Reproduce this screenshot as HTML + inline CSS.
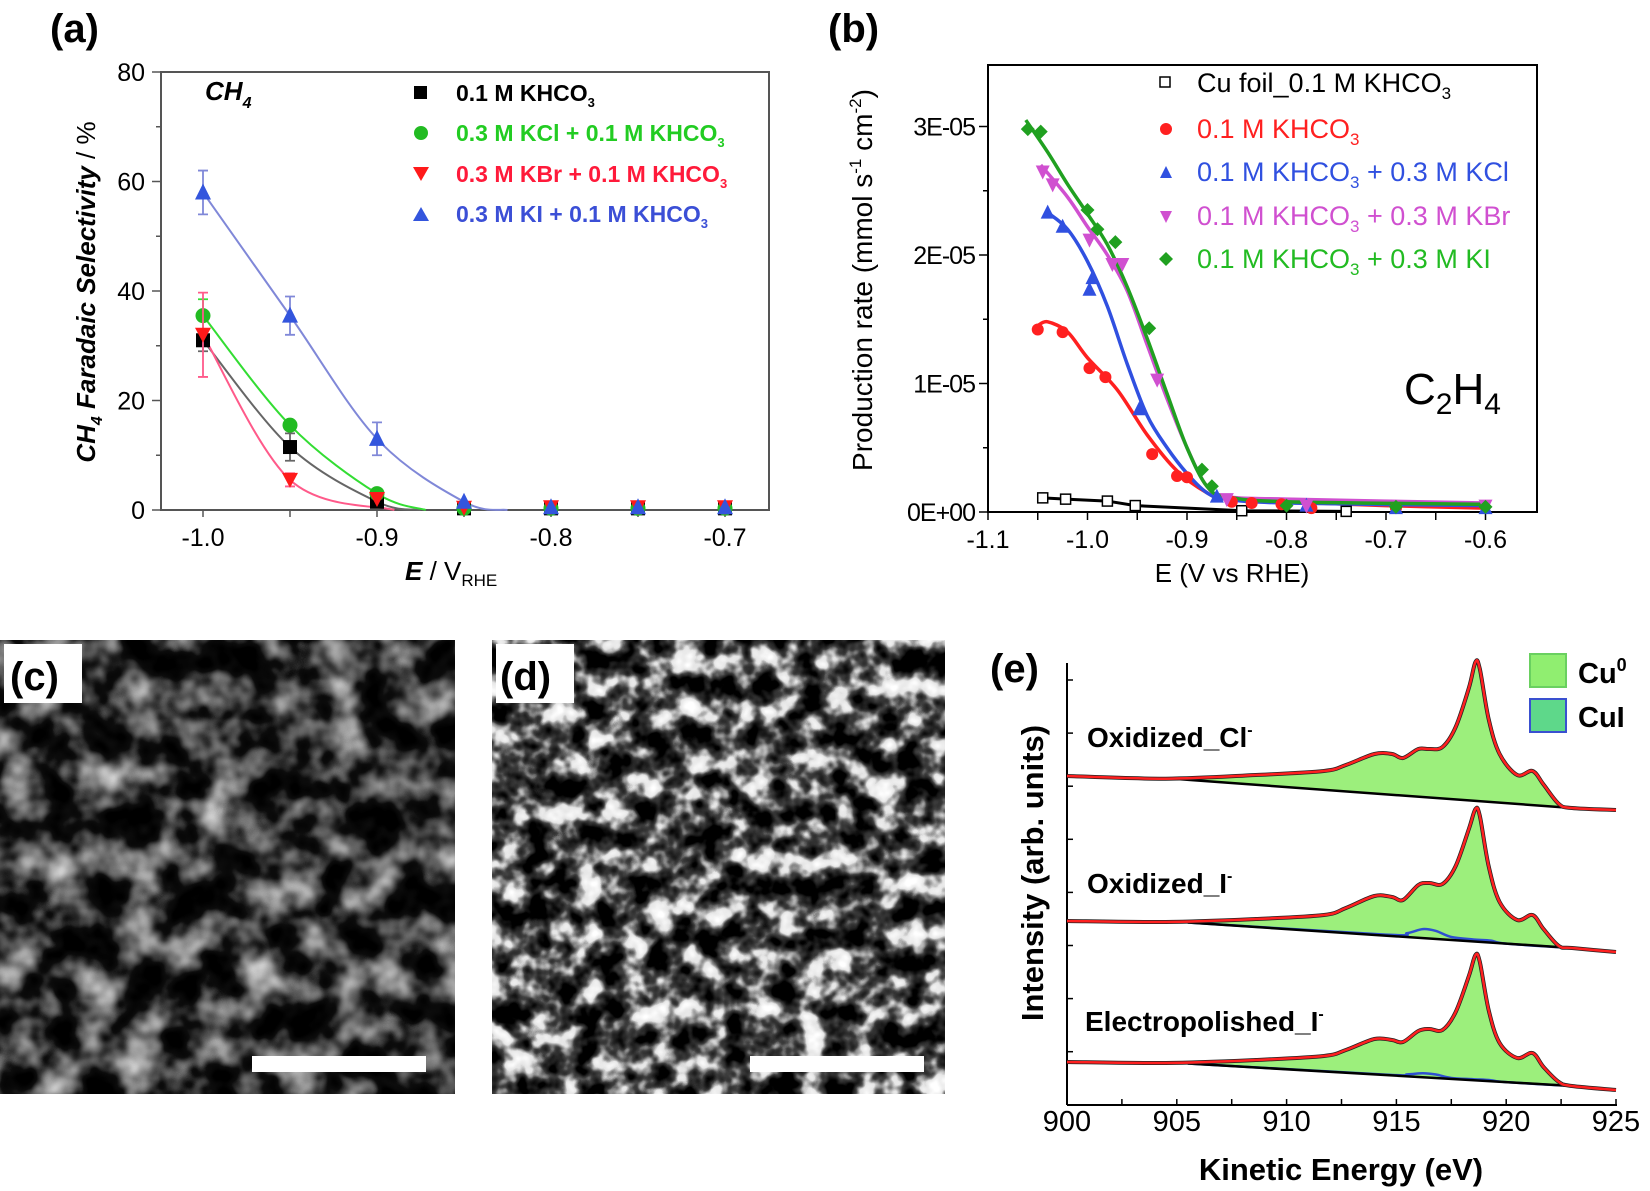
<!DOCTYPE html>
<html><head><meta charset="utf-8">
<style>
html,body{margin:0;padding:0;background:#fff;}
svg{display:block;font-family:"Liberation Sans",sans-serif;}
</style></head>
<body>
<svg id="fig" width="1650" height="1191" viewBox="0 0 1650 1191" xmlns="http://www.w3.org/2000/svg">
<defs>
<filter id="semc" x="0" y="0" width="1" height="1" color-interpolation-filters="sRGB">
<feTurbulence type="fractalNoise" baseFrequency="0.025" numOctaves="3" seed="7"/>
<feColorMatrix type="matrix" values="1 0 0 0 0 1 0 0 0 0 1 0 0 0 0 0 0 0 0 1"/>
<feComponentTransfer><feFuncR type="table" tableValues="0 0 0 0.05 0.35 0.6 0.8 0.95"/><feFuncG type="table" tableValues="0 0 0 0.05 0.35 0.6 0.8 0.95"/><feFuncB type="table" tableValues="0 0 0 0.05 0.35 0.6 0.8 0.95"/></feComponentTransfer>
</filter>
<filter id="semd" x="0" y="0" width="1" height="1" color-interpolation-filters="sRGB">
<feTurbulence type="fractalNoise" baseFrequency="0.04" numOctaves="3" seed="11"/>
<feColorMatrix type="matrix" values="1 0 0 0 0 1 0 0 0 0 1 0 0 0 0 0 0 0 0 1"/>
<feComponentTransfer><feFuncR type="table" tableValues="0 0 0 0.25 0.9 1 1"/><feFuncG type="table" tableValues="0 0 0 0.25 0.9 1 1"/><feFuncB type="table" tableValues="0 0 0 0.25 0.9 1 1"/></feComponentTransfer>
</filter>
</defs>

<text x="50" y="42" font-size="40" font-weight="bold">(a)</text>
<text x="828" y="42" font-size="40" font-weight="bold">(b)</text>
<text x="990" y="682" font-size="40" font-weight="bold">(e)</text>

<g id="pa">
<rect x="161" y="72" width="608" height="438" fill="none" stroke="#555" stroke-width="2"/>
<text x="205" y="100" font-size="26" font-weight="bold" font-style="italic">CH<tspan font-size="16" dy="8">4</tspan></text>
<text transform="translate(95,292) rotate(-90)" text-anchor="middle" font-size="26" font-weight="bold" font-style="italic">CH<tspan font-size="16" dy="7">4</tspan><tspan dy="-7"> Faradaic Selectivity </tspan><tspan font-style="normal" font-weight="normal">/ %</tspan></text>
<text x="405" y="580" font-size="26"><tspan font-weight="bold" font-style="italic">E</tspan> / V<tspan font-size="17" dy="6">RHE</tspan></text>
<g font-size="23" font-weight="bold">
<rect x="414" y="86" width="13" height="13" fill="#000"/>
<text x="456" y="101" fill="#000">0.1 M KHCO<tspan font-size="13" dy="6">3</tspan></text>
<circle cx="421" cy="133" r="7" fill="#22bb22"/>
<text x="456" y="141" fill="#22cc22">0.3 M KCl + 0.1 M KHCO<tspan font-size="13" dy="6">3</tspan></text>
<polygon points="413,167 429,167 421,181" fill="#ff1a1a"/>
<text x="456" y="182" fill="#ff1a3a">0.3 M KBr + 0.1 M KHCO<tspan font-size="13" dy="6">3</tspan></text>
<polygon points="413,221 429,221 421,207" fill="#3355dd"/>
<text x="456" y="222" fill="#3b4fd6">0.3 M KI + 0.1 M KHCO<tspan font-size="13" dy="6">3</tspan></text>
</g>
</g>

<g id="pb">
<rect x="988" y="65" width="549" height="447" fill="none" stroke="#000" stroke-width="2"/>
<text x="1404" y="404" font-size="44">C<tspan font-size="30" dy="10">2</tspan><tspan dy="-10">H</tspan><tspan font-size="30" dy="10">4</tspan></text>
<text transform="translate(872,280) rotate(-90)" text-anchor="middle" font-size="28">Production rate (mmol s<tspan font-size="17" dy="-11">-1</tspan><tspan dy="11"> cm</tspan><tspan font-size="17" dy="-11">-2</tspan><tspan dy="11">)</tspan></text>
<text x="1232" y="582" text-anchor="middle" font-size="26">E (V vs RHE)</text>
<g font-size="27">
<rect x="1160" y="77" width="10" height="10" fill="#fff" stroke="#000" stroke-width="1.5"/>
<text x="1197" y="92" fill="#000">Cu foil_0.1 M KHCO<tspan font-size="17" dy="7">3</tspan></text>
<circle cx="1166" cy="129" r="6" fill="#ff2020"/>
<text x="1197" y="138" fill="#ff2020">0.1 M KHCO<tspan font-size="17" dy="7">3</tspan></text>
<polygon points="1160,178 1172,178 1166,166" fill="#3050e0"/>
<text x="1197" y="181" fill="#3050e0">0.1 M KHCO<tspan font-size="17" dy="7">3</tspan><tspan dy="-7"> + 0.3 M KCl</tspan></text>
<polygon points="1160,211 1172,211 1166,223" fill="#d050d0"/>
<text x="1197" y="225" fill="#d050d0">0.1 M KHCO<tspan font-size="17" dy="7">3</tspan><tspan dy="-7"> + 0.3 M KBr</tspan></text>
<polygon points="1166,252 1173,259 1166,266 1159,259" fill="#20a020"/>
<text x="1197" y="268" fill="#22bb22">0.1 M KHCO<tspan font-size="17" dy="7">3</tspan><tspan dy="-7"> + 0.3 M KI</tspan></text>
</g>
</g>

<g>
<rect x="0" y="640" width="455" height="454" filter="url(#semc)"/>
<rect x="4" y="644" width="78" height="59" fill="#fff"/>
<text x="10" y="690" font-size="40" font-weight="bold">(c)</text>
<rect x="252" y="1056" width="174" height="16" fill="#fff"/>
</g>
<g>
<rect x="492" y="640" width="453" height="454" filter="url(#semd)"/>
<rect x="496" y="644" width="78" height="59" fill="#fff"/>
<text x="500" y="690" font-size="40" font-weight="bold">(d)</text>
<rect x="750" y="1056" width="174" height="16" fill="#fff"/>
</g>

<g id="pe">
<line x1="1067" y1="663" x2="1067" y2="1105" stroke="#000" stroke-width="2"/>
<line x1="1067" y1="1105" x2="1617" y2="1105" stroke="#000" stroke-width="2"/>
<text transform="translate(1043,873) rotate(-90)" text-anchor="middle" font-size="31" font-weight="bold">Intensity (arb. units)</text>
<text x="1341" y="1180" text-anchor="middle" font-size="31" font-weight="bold">Kinetic Energy (eV)</text>
<rect x="1530" y="654" width="36" height="33" fill="#90ee70" stroke="#6ad060" stroke-width="2"/>
<text x="1578" y="683" font-size="29" font-weight="bold">Cu<tspan font-size="18" dy="-12">0</tspan></text>
<rect x="1530" y="699" width="36" height="33" fill="#5ed88a" stroke="#3a50d0" stroke-width="2"/>
<text x="1578" y="727" font-size="29" font-weight="bold">CuI</text>
<text x="1087" y="747" font-size="28" font-weight="bold">Oxidized_Cl<tspan font-size="16" dy="-12">-</tspan></text>
<text x="1087" y="893" font-size="28" font-weight="bold">Oxidized_I<tspan font-size="16" dy="-12">-</tspan></text>
<text x="1085" y="1031" font-size="28" font-weight="bold">Electropolished_I<tspan font-size="16" dy="-12">-</tspan></text>
</g>
</svg>

<script>
// ---------- Panel (a) data ----------
const aX = [-1.0, -0.95, -0.9, -0.85, -0.8, -0.75, -0.7];
const aKHCO3 = [31, 11.5, 1.5, 0.3, 0.3, 0.3, 0.3];
const aKCl = [35.5, 15.5, 3, 0.3, 0.3, 0.3, 0.3];
const aKBr = [32, 5.5, 2, 0.4, 0.5, 0.5, 0.5];
const aKI = [58, 35.5, 13, 1.5, 0.5, 0.5, 0.5];
const aKHCO3Err = [2, 2.5, 0, 0, 0, 0, 0];
const aKClErr = [3, 0, 0, 0, 0, 0, 0];
const aKBrErr = [7.7, 1.2, 0, 0, 0, 0, 0];
const aKIErr = [4, 3.5, 3, 0, 0, 0, 0];
const aFitEnd = [-0.875, -0.872, -0.89, -0.825];
const aYTicks = [0, 20, 40, 60, 80];
const aXTicks = [-1.0, -0.9, -0.8, -0.7];
const aXTickLabels = ["-1.0", "-0.9", "-0.8", "-0.7"];

// ---------- Panel (b) data (units 1E-05) ----------
const bFoilX = [-1.045, -1.022, -0.98, -0.952, -0.845, -0.74];
const bFoilY = [0.11, 0.1, 0.085, 0.05, 0.01, 0.005];
const bKHCO3X = [-1.05, -1.025, -0.998, -0.982, -0.935, -0.91, -0.9, -0.855, -0.835, -0.805, -0.775, -0.69];
const bKHCO3Y = [1.42, 1.4, 1.12, 1.05, 0.45, 0.28, 0.27, 0.08, 0.07, 0.06, 0.03, 0.03];
const bKClX = [-1.04, -1.025, -0.995, -0.998, -0.948, -0.87, -0.78, -0.69, -0.6];
const bKClY = [2.33, 2.22, 1.82, 1.73, 0.8, 0.12, 0.05, 0.03, 0.03];
const bKBrX = [-1.045, -1.035, -0.998, -0.975, -0.965, -0.93, -0.86, -0.78, -0.6];
const bKBrY = [2.65, 2.55, 2.12, 1.93, 1.93, 1.03, 0.1, 0.05, 0.05];
const bKIX = [-1.06, -1.047, -1.0, -0.99, -0.972, -0.938, -0.885, -0.875, -0.8, -0.69, -0.6];
const bKIY = [2.98, 2.96, 2.35, 2.2, 2.1, 1.43, 0.33, 0.2, 0.05, 0.04, 0.04];
const bFitKHCO3X = [-1.05, -1.04, -1.02, -1.0, -0.97, -0.94, -0.91, -0.88, -0.86, -0.8, -0.7, -0.6];
const bFitKHCO3Y = [1.45, 1.48, 1.4, 1.2, 0.95, 0.6, 0.32, 0.15, 0.1, 0.08, 0.05, 0.03];
const bFitKClX = [-1.04, -1.02, -1.0, -0.98, -0.96, -0.94, -0.92, -0.9, -0.88, -0.86, -0.8, -0.6];
const bFitKClY = [2.33, 2.2, 1.95, 1.6, 1.15, 0.75, 0.5, 0.3, 0.15, 0.1, 0.07, 0.05];
const bFitKBrX = [-1.047, -1.02, -1.0, -0.98, -0.96, -0.94, -0.92, -0.9, -0.88, -0.86, -0.8, -0.6];
const bFitKBrY = [2.7, 2.45, 2.22, 2.0, 1.72, 1.3, 0.88, 0.5, 0.2, 0.12, 0.1, 0.07];
const bFitKIX = [-1.062, -1.04, -1.02, -1.0, -0.98, -0.96, -0.94, -0.92, -0.9, -0.88, -0.86, -0.8, -0.6];
const bFitKIY = [3.05, 2.8, 2.55, 2.32, 2.08, 1.75, 1.35, 0.92, 0.5, 0.2, 0.12, 0.08, 0.06];
const bYTicks = [0, 1, 2, 3];
const bYTickLabels = ["0E+00", "1E-05", "2E-05", "3E-05"];
const bXTicks = [-1.1, -1.0, -0.9, -0.8, -0.7, -0.6];
const bXTickLabels = ["-1.1", "-1.0", "-0.9", "-0.8", "-0.7", "-0.6"];

// ---------- Panel (e) data ----------
const eE = [900, 904.5, 908.6, 911.7, 912.7, 914, 914.8, 915.3, 916, 916.5, 917.1, 917.7, 918.3, 918.6, 918.8, 919.2, 919.7, 920.5, 921.2, 921.7, 922.4, 923, 925];
const eCl = [0, -2.7, 1, 5, 11, 22, 22, 18, 27, 27, 29, 49, 88, 114, 107, 57, 22, 1, 5, -8.5, -28, -32, -34];
const eI = [0, -1, 2, 6, 13, 25, 24, 21, 36, 38, 37, 55, 92, 112, 105, 55, 19, 1, 6, -8, -25, -27, -31];
const eEP = [0, -1, 2, 6, 12, 23, 22, 20, 31, 33, 32, 50, 86, 107, 100, 52, 19, 4, 9, -5, -20, -24, -28];
const eBgStart = [905, 905.5, 905.5];
const eBgStartY = [-3, -1.5, -1.5];
const eBgEnd = [923, 923, 923];
const eBgEndY = [-32, -27, -24];
const eCuIE = [905.5, 914.5, 915.5, 916.2, 916.8, 917.5, 918.5, 919.3, 920, 923];
const eCuIIbump = [0, 1, 4, 9, 8, 3, 2, 2, 0, 0];
const eCuIEPbump = [0, 0.5, 2, 4, 3.5, 1, 1, 1, 0, 0];
const eXTicks = [900, 905, 910, 915, 920, 925];
const eXTickLabels = ["900", "905", "910", "915", "920", "925"];

const NS = "http://www.w3.org/2000/svg";
const svg = document.getElementById('fig');
function mk(tag, attrs, parent) {
  const el = document.createElementNS(NS, tag);
  for (const k in attrs) el.setAttribute(k, attrs[k]);
  (parent || svg).appendChild(el);
  return el;
}
function smooth(pts) {
  let d = `M${pts[0][0]},${pts[0][1]}`;
  for (let i = 0; i < pts.length - 1; i++) {
    const p0 = pts[Math.max(0, i - 1)], p1 = pts[i], p2 = pts[i + 1], p3 = pts[Math.min(pts.length - 1, i + 2)];
    const c1x = p1[0] + (p2[0] - p0[0]) / 6, c1y = p1[1] + (p2[1] - p0[1]) / 6;
    const c2x = p2[0] - (p3[0] - p1[0]) / 6, c2y = p2[1] - (p3[1] - p1[1]) / 6;
    d += ` C${c1x},${c1y} ${c2x},${c2y} ${p2[0]},${p2[1]}`;
  }
  return d;
}

// ===== Panel (a) =====
const xa = v => 203 + (v + 1) * 1740;
const ya = v => 510 - v * 5.475;
const ga = document.getElementById('pa');
for (let v = 0; v <= 80; v += 10) {
  const t = mk('line', {x1: 161, x2: v % 20 === 0 ? 152 : 156, y1: ya(v), y2: ya(v), stroke: '#555', 'stroke-width': 1.5}, ga);
  
  
}
aYTicks.forEach(v => {
  const t = mk('text', {x: 145, y: ya(v) + 9, 'text-anchor': 'end', 'font-size': 25}, ga);
  t.textContent = String(v);
  
  
});
for (let v = -1.0; v <= -0.69; v += 0.05) {
  const t = mk('line', {x1: xa(v), x2: xa(v), y1: 510, y2: 517, stroke: '#555', 'stroke-width': 1.5}, ga);
  
  
}
aXTicks.forEach((v, i) => {
  const t = mk('text', {x: xa(v), y: 546, 'text-anchor': 'middle', 'font-size': 25}, ga);
  t.textContent = aXTickLabels[i];
  
  
});
const aSeries = [
  {name: 'khco3', y: aKHCO3, e: aKHCO3Err, line: '#666', col: '#000', mark: 'sq', end: aFitEnd[0], n: 3},
  {name: 'kcl', y: aKCl, e: aKClErr, line: '#33dd33', col: '#22bb22', mark: 'ci', end: aFitEnd[1], n: 3},
  {name: 'kbr', y: aKBr, e: aKBrErr, line: '#ff5a8a', col: '#ff1a1a', mark: 'dn', end: aFitEnd[2], n: 2},
  {name: 'ki', y: aKI, e: aKIErr, line: '#8088d8', col: '#3355dd', mark: 'up', end: aFitEnd[3], n: 4}
];
aSeries.forEach(s => {
  const pts = [];
  for (let i = 0; i < s.n; i++) pts.push([xa(aX[i]), ya(s.y[i])]);
  pts.push([xa(s.end), ya(0)]);
  const p = mk('path', {d: smooth(pts), fill: 'none', stroke: s.line, 'stroke-width': 2}, ga);
  
  
});
aSeries.forEach(s => {
  aX.forEach((xv, i) => {
    const cx = xa(xv), cy = ya(s.y[i]);
    if (s.e[i] > 0) {
      const eb = mk('path', {d: `M${cx},${ya(s.y[i] - s.e[i])}V${ya(s.y[i] + s.e[i])}M${cx - 5},${ya(s.y[i] - s.e[i])}h10M${cx - 5},${ya(s.y[i] + s.e[i])}h10`, stroke: s.line, 'stroke-width': 1.8, fill: 'none'}, ga);
      
      
    }
    let m;
    if (s.mark === 'sq') m = mk('rect', {x: cx - 7, y: cy - 7, width: 14, height: 14, fill: s.col}, ga);
    else if (s.mark === 'ci') m = mk('circle', {cx: cx, cy: cy, r: 7.5, fill: s.col}, ga);
    else if (s.mark === 'dn') m = mk('polygon', {points: `${cx - 8},${cy - 7} ${cx + 8},${cy - 7} ${cx},${cy + 8}`, fill: s.col}, ga);
    else m = mk('polygon', {points: `${cx - 8},${cy + 7} ${cx + 8},${cy + 7} ${cx},${cy - 9}`, fill: s.col}, ga);
    
    
  });
});

// ===== Panel (b) =====
const xb = v => 988 + (v + 1.1) * 995;
const yb = v => 512 - v * 128.5;
const gb = document.getElementById('pb');
for (let v = 0; v <= 3.4; v += 0.5) {
  const t = mk('line', {x1: 988, x2: Math.abs(v - Math.round(v)) < 0.01 ? 979 : 983, y1: yb(v), y2: yb(v), stroke: '#000', 'stroke-width': 1.5}, gb);
  
  
}
bYTicks.forEach((v, i) => {
  const t = mk('text', {x: 975, y: yb(v) + 9, 'text-anchor': 'end', 'font-size': 25, 'letter-spacing': '-1'}, gb);
  t.textContent = bYTickLabels[i];
  
  
});
for (let v = -1.1; v <= -0.58; v += 0.05) {
  const t = mk('line', {x1: xb(v), x2: xb(v), y1: 512, y2: 520, stroke: '#000', 'stroke-width': 1.5}, gb);
  
  
}
bXTicks.forEach((v, i) => {
  const t = mk('text', {x: xb(v), y: 548, 'text-anchor': 'middle', 'font-size': 25}, gb);
  t.textContent = bXTickLabels[i];
  
  
});
const foilLine = mk('polyline', {points: bFoilX.map((x, i) => `${xb(x)},${yb(bFoilY[i])}`).join(' '), fill: 'none', stroke: '#000', 'stroke-width': 3}, gb);


const bFits = [
  {name: 'khco3', x: bFitKHCO3X, y: bFitKHCO3Y, col: '#ff2020'},
  {name: 'kcl', x: bFitKClX, y: bFitKClY, col: '#3050e0'},
  {name: 'kbr', x: bFitKBrX, y: bFitKBrY, col: '#d050d0'},
  {name: 'ki', x: bFitKIX, y: bFitKIY, col: '#20a020'}
];
bFits.forEach(f => {
  const p = mk('path', {d: smooth(f.x.map((x, i) => [xb(x), yb(f.y[i])])), fill: 'none', stroke: f.col, 'stroke-width': 3.5}, gb);
  
  
});
bFoilX.forEach((x, i) => {
  const m = mk('rect', {x: xb(x) - 5, y: yb(bFoilY[i]) - 5, width: 10, height: 10, fill: '#fff', stroke: '#000', 'stroke-width': 1.5}, gb);
  
  
});
const bPts = [
  {name: 'khco3', x: bKHCO3X, y: bKHCO3Y, col: '#ff2020', mark: 'ci'},
  {name: 'kcl', x: bKClX, y: bKClY, col: '#3050e0', mark: 'up'},
  {name: 'kbr', x: bKBrX, y: bKBrY, col: '#d050d0', mark: 'dn'},
  {name: 'ki', x: bKIX, y: bKIY, col: '#20a020', mark: 'di'}
];
bPts.forEach(s => {
  s.x.forEach((xv, i) => {
    const cx = xb(xv), cy = yb(s.y[i]);
    let m;
    if (s.mark === 'ci') m = mk('circle', {cx: cx, cy: cy, r: 6, fill: s.col}, gb);
    else if (s.mark === 'up') m = mk('polygon', {points: `${cx - 7},${cy + 6} ${cx + 7},${cy + 6} ${cx},${cy - 8}`, fill: s.col}, gb);
    else if (s.mark === 'dn') m = mk('polygon', {points: `${cx - 7},${cy - 6} ${cx + 7},${cy - 6} ${cx},${cy + 8}`, fill: s.col}, gb);
    else m = mk('polygon', {points: `${cx},${cy - 7} ${cx + 7},${cy} ${cx},${cy + 7} ${cx - 7},${cy}`, fill: s.col}, gb);
    
    
  });
});

// ===== Panel (e) =====
const xe = v => 1067 + (v - 900) * 21.96;
const eBase = [776, 921, 1062];
const ge = document.getElementById('pe');
for (let i = 0; i <= 8; i++) {
  const t = mk('line', {x1: 1067, x2: 1073, y1: 680 + i * 53.1, y2: 680 + i * 53.1, stroke: '#000', 'stroke-width': 1.5}, ge);
  
  
}
for (let v = 900; v <= 925; v += 2.5) {
  const t = mk('line', {x1: xe(v), x2: xe(v), y1: 1105, y2: 1099, stroke: '#000', 'stroke-width': 1.5}, ge);
  
  
}
eXTicks.forEach((v, i) => {
  const t = mk('text', {x: xe(v), y: 1131, 'text-anchor': 'middle', 'font-size': 29}, ge);
  t.textContent = eXTickLabels[i];
  
  
});
const eSpec = [
  {name: 'oxidized-cl', y: eCl, bump: null},
  {name: 'oxidized-i', y: eI, bump: eCuIIbump},
  {name: 'electropolished-i', y: eEP, bump: eCuIEPbump}
];
eSpec.forEach((s, k) => {
  const base = eBase[k];
  const bgAt = e => eBgStartY[k] + (eBgEndY[k] - eBgStartY[k]) * (e - eBgStart[k]) / (eBgEnd[k] - eBgStart[k]);
  const pts = eE.map((e, i) => [xe(e), base - s.y[i]]);
  const inner = [[xe(eBgStart[k]), base - eBgStartY[k]]];
  eE.forEach((e, i) => { if (e > eBgStart[k] && e < eBgEnd[k]) inner.push([xe(e), base - s.y[i]]); });
  inner.push([xe(eBgEnd[k]), base - eBgEndY[k]]);
  const fill = mk('path', {d: smooth(inner) + ` L${xe(eBgStart[k])},${base - eBgStartY[k]} Z`, fill: '#9cef7c', stroke: '#38b838', 'stroke-width': 1}, ge);
  
  
  if (s.bump) {
    const bp = eCuIE.map((e, i) => [xe(e), base - bgAt(e) - s.bump[i]]);
    const cu = mk('path', {d: smooth(bp), fill: 'none', stroke: '#2e50d0', 'stroke-width': 2.5}, ge);
    
    
  }
  const bg = mk('line', {x1: xe(eBgStart[k]), y1: base - eBgStartY[k], x2: xe(eBgEnd[k]), y2: base - eBgEndY[k], stroke: '#000', 'stroke-width': 2.5}, ge);
  
  
  const env = mk('path', {d: smooth(pts), fill: 'none', stroke: '#222', 'stroke-width': 4}, ge);
  
  
  const red = mk('path', {d: smooth(pts), fill: 'none', stroke: '#ff2020', 'stroke-width': 2.5}, ge);
  
  
});
</script>
</body></html>
